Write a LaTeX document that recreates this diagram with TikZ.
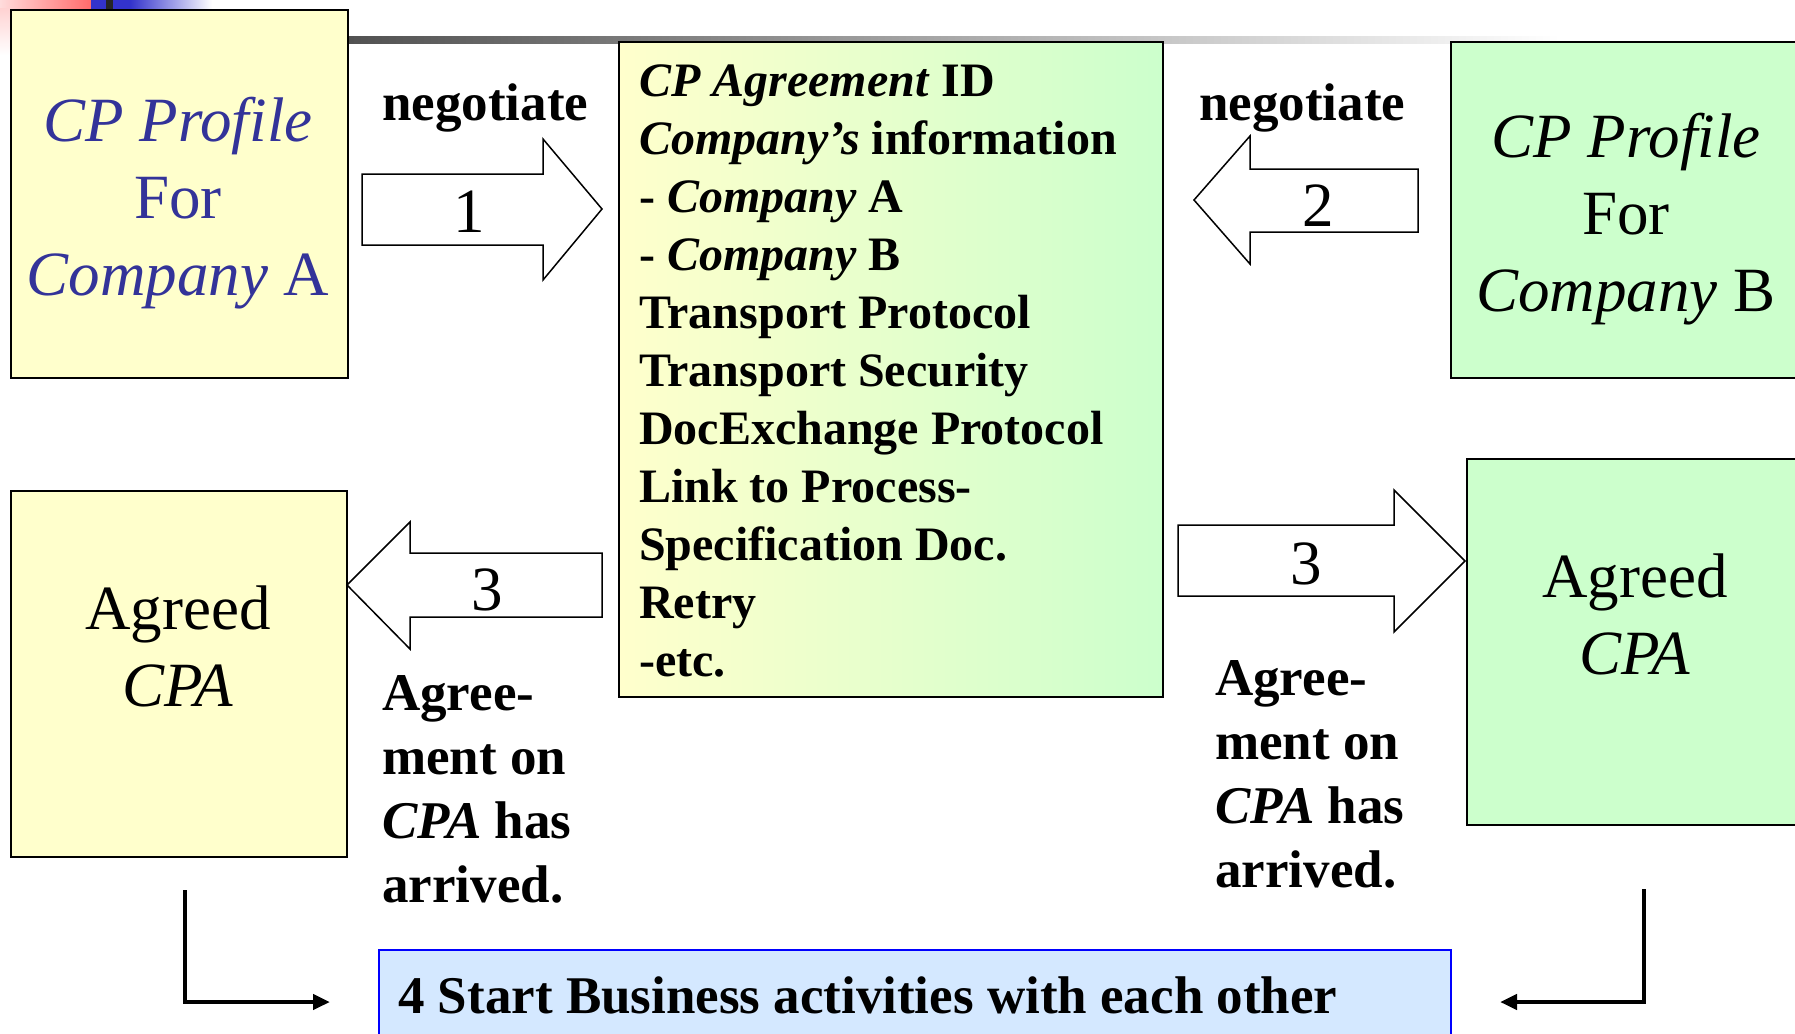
\documentclass[tikz,border=0pt]{standalone}
\usepackage{fontspec}
\setmainfont{Liberation Serif}
\usetikzlibrary{arrows.meta}
\definecolor{ylw}{HTML}{FFFFCC}
\definecolor{grn}{HTML}{CCFFCC}
\definecolor{bluebox}{RGB}{212,232,255}
\definecolor{txtblue}{HTML}{333399}
\definecolor{tplred}{HTML}{FF5050}
\definecolor{tplblue}{HTML}{3333CC}
\begin{document}
\begin{tikzpicture}[x=1pt,y=-1pt,
  box/.style={draw=black, line width=2pt, inner sep=0pt, anchor=north west},
  blockarrow/.style={draw=black, line width=1.5pt, fill=white, line join=miter},
  bigtext/.style={font=\fontsize{63}{77}\selectfont, align=center, inner sep=0pt},
  listtext/.style={font=\fontsize{48}{58}\selectfont\bfseries, align=left, inner sep=0pt},
  sidetext/.style={font=\fontsize{53}{64}\selectfont\bfseries, align=left, inner sep=0pt},
  numtext/.style={font=\fontsize{63}{63}\selectfont, inner sep=0pt},
  elbow/.style={line width=4.5pt, -{Triangle[length=17pt,width=15pt]}}
]
\useasboundingbox (0,0) rectangle (1795,1033);
\clip (0,0) rectangle (1795,1033);
% template decorations
\shade[left color=tplred!20, right color=tplred!85] (0,0) rectangle (91,9);
\shade[top color=tplred!25, bottom color=white] (0,9) rectangle (10,55);
\fill[tplblue] (91,0) rectangle (130,9);
\shade[left color=tplblue, right color=white] (130,0) rectangle (212,9);
\fill[black!85] (106,0) rectangle (113,9);
\shade[left color=black!68, right color=white] (347,37) rectangle (1560,44);
% boxes
\node[box, fill=ylw, minimum width=337pt, minimum height=368pt] (profA) at (10,9) {};
\node[box, left color=ylw, right color=grn, minimum width=544pt, minimum height=655pt] (cpa) at (618,41) {};
\node[box, fill=grn, minimum width=360pt, minimum height=336pt] (profB) at (1450,41) {};
\node[box, fill=ylw, minimum width=336pt, minimum height=366pt] (agrA) at (10,490) {};
\node[box, fill=grn, minimum width=344pt, minimum height=366pt] (agrB) at (1466,458) {};
\node[box, draw=blue, fill=bluebox, minimum width=1072pt, minimum height=100pt] (biz) at (378,949) {};
% box texts
\node[bigtext, text=txtblue] (tA) at (178,203) {\textit{CP Profile}\\For\\\textit{Company} A};
\node[bigtext] (tB) at (1626,219) {\textit{CP Profile}\\For\\\textit{Company} B};
\node[bigtext] (gA) at (178,646) {Agreed\\\textit{CPA}};
\node[bigtext] (gB) at (1635,614) {Agreed\\\textit{CPA}};
\node[listtext, anchor=west] (list) at (639,371) {\textit{CP Agreement} ID\\\textit{Company's} information\\- \textit{Company} A\\- \textit{Company} B\\Transport Protocol\\Transport Security\\DocExchange Protocol\\Link to Process-\\Specification Doc.\\Retry\\-etc.};
\node[sidetext, anchor=west] (neg1) at (382,108) {negotiate};
\node[sidetext, anchor=west] (neg2) at (1199,108) {negotiate};
\node[sidetext, anchor=west] (arrA) at (382,789) {Agree-\\ment on\\\textit{CPA} has\\arrived.};
\node[sidetext, anchor=west] (arrB) at (1215,774) {Agree-\\ment on\\\textit{CPA} has\\arrived.};
\node[sidetext, anchor=west] (biztext) at (398,995) {4 Start Business activities with each other};
% block arrows
\draw[blockarrow] (362,174) -- (543,174) -- (543,139) -- (602,209) -- (543,280) -- (543,245) -- (362,245) -- cycle;
\node[numtext] (n1) at (469,212) {1};
\draw[blockarrow] (1418,169) -- (1250,169) -- (1250,136) -- (1194,200) -- (1250,264) -- (1250,232) -- (1418,232) -- cycle;
\node[numtext] (n2) at (1318,206) {2};
\draw[blockarrow] (602,553) -- (410,553) -- (410,522) -- (347,585) -- (410,649) -- (410,617) -- (602,617) -- cycle;
\node[numtext] (n3a) at (487,590) {3};
\draw[blockarrow] (1178,525) -- (1394,525) -- (1394,490) -- (1465,561) -- (1394,632) -- (1394,596) -- (1178,596) -- cycle;
\node[numtext] (n3b) at (1306,564) {3};
% elbow arrows
\coordinate (ea1) at (185,890);
\coordinate (ea2) at (330,1002);
\draw[elbow] (ea1) |- (ea2);
\coordinate (eb1) at (1644,889);
\coordinate (eb2) at (1500,1002);
\draw[elbow] (eb1) |- (eb2);
\end{tikzpicture}
\end{document}
